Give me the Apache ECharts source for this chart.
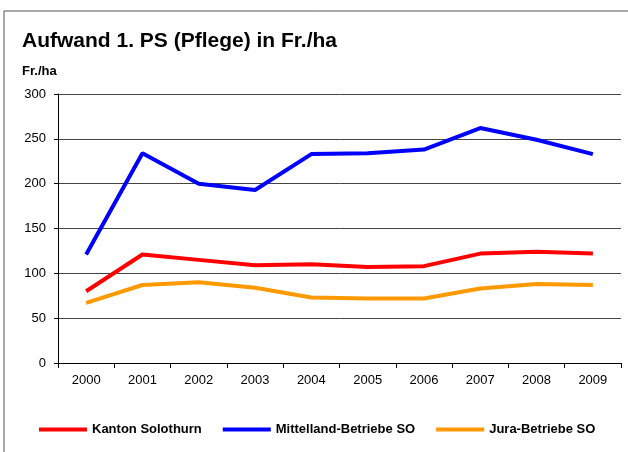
<!DOCTYPE html>
<html>
<head>
<meta charset="utf-8">
<script src="https://cdn.jsdelivr.net/npm/echarts@6/dist/echarts.min.js"></script>
<style>
  html, body { margin: 0; padding: 0; background: #fff; }
  #chart { width: 628px; height: 452px; }
</style>
</head>
<body>
<div id="chart"></div>
<script>
// data
const years = ['2000', '2001', '2002', '2003', '2004', '2005', '2006', '2007', '2008', '2009'];
const kanton = [80, 121, 115, 109, 110, 107, 108, 122, 124, 122];
const mittelland = [121, 234, 200, 193, 233, 234, 238, 262, 249, 233];
const jura = [67, 87, 90, 84, 73, 72, 72, 83, 88, 87];

const font = '"Liberation Sans", Arial, sans-serif';

let chart = echarts.init(document.getElementById('chart'));

let lineSeries = function (name, data, color) {
  return {
    name: name,
    type: 'line',
    data: data,
    symbol: 'none',
    color: color,
    lineStyle: { width: 4, color: color },
    animation: false
  };
};

chart.setOption({
  backgroundColor: '#fff',
  animation: false,
  graphic: [
    {
      type: 'rect',
      shape: { x: 4, y: 11, width: 700, height: 500 },
      style: { fill: 'none', stroke: '#555', lineWidth: 1 },
      z: -1
    }
  ],
  title: [
    {
      text: 'Aufwand 1. PS (Pflege) in Fr./ha',
      left: 17,
      top: 26,
      textStyle: { fontFamily: font, fontSize: 21, fontWeight: 'bold', color: '#000' }
    },
    {
      text: 'Fr./ha',
      left: 17,
      top: 60,
      textStyle: { fontFamily: font, fontSize: 13, fontWeight: 'bold', color: '#000' }
    }
  ],
  legend: {
    top: 418,
    left: 34,
    itemWidth: 48,
    itemHeight: 4,
    itemGap: 21,
    icon: 'rect',
    textStyle: { fontFamily: font, fontSize: 13, fontWeight: 'bold', color: '#000' },
    data: ['Kanton Solothurn', 'Mittelland-Betriebe SO', 'Jura-Betriebe SO']
  },
  grid: { left: 58, right: 7, top: 94, bottom: 89 },
  xAxis: {
    type: 'category',
    data: years,
    boundaryGap: true,
    axisLine: { lineStyle: { color: '#000', width: 1 } },
    axisTick: { show: true, length: 5, lineStyle: { color: '#000' } },
    axisLabel: { fontFamily: font, fontSize: 13, color: '#000', margin: 11 }
  },
  yAxis: {
    type: 'value',
    min: 0,
    max: 300,
    interval: 50,
    axisLine: { show: true, lineStyle: { color: '#000', width: 1 } },
    axisTick: { show: true, length: 4, lineStyle: { color: '#000' } },
    axisLabel: { fontFamily: font, fontSize: 13, color: '#000', margin: 12 },
    splitLine: { lineStyle: { color: '#444', width: 1 } }
  },
  series: [
    lineSeries('Kanton Solothurn', kanton, '#ff0000'),
    lineSeries('Mittelland-Betriebe SO', mittelland, '#0000ff'),
    lineSeries('Jura-Betriebe SO', jura, '#ff9900')
  ]
});
</script>
</body>
</html>
